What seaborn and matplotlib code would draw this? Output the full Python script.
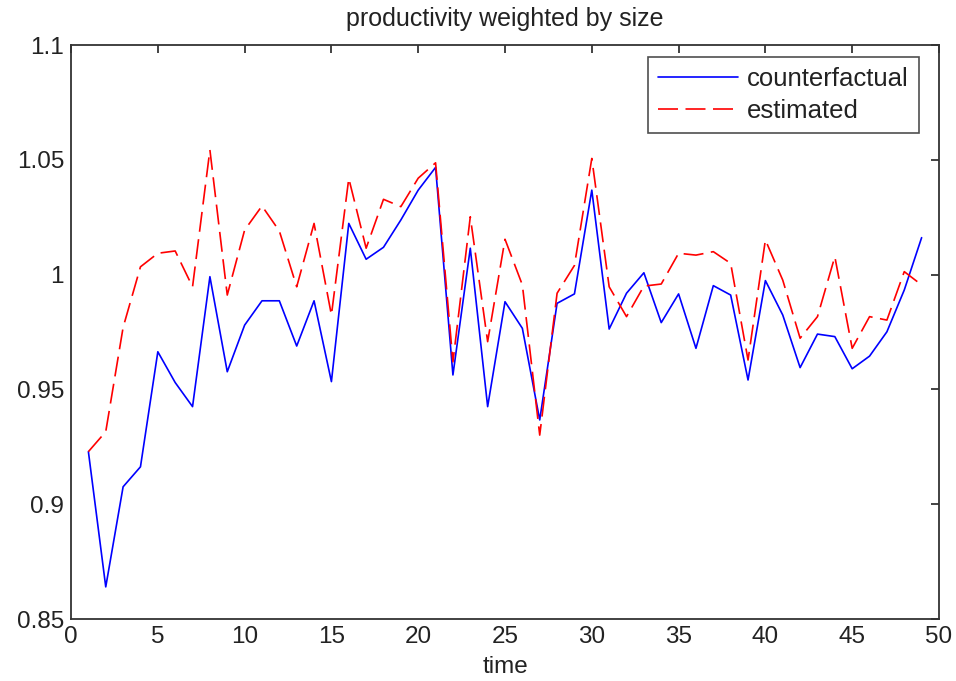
import seaborn as sns
import matplotlib.pyplot as plt
import pandas as pd
import numpy as np
from matplotlib.ticker import FuncFormatter

# values, t = 1..49
time = list(range(1, 50))
counterfactual = [
    0.9229, 0.864, 0.9076, 0.9163, 0.9664, 0.953, 0.9425, 0.9991, 0.9577, 0.978,
    0.9886, 0.9886, 0.9689, 0.9886, 0.9534, 1.0223, 1.0067, 1.0119, 1.0238, 1.0368,
    1.0467, 0.9563, 1.0115, 0.9425, 0.9882, 0.9766, 0.9367, 0.9875, 0.9916, 1.0368,
    0.9763, 0.9919, 1.0008, 0.9791, 0.9916, 0.9679, 0.9952, 0.9911, 0.9541, 0.9974,
    0.9824, 0.9595, 0.9741, 0.9730, 0.9590, 0.9645, 0.9751, 0.9933, 1.0161,
]
estimated = [
    0.9229, 0.9316, 0.977, 1.0034, 1.0093, 1.0103, 0.9947, 1.0543, 0.9911, 1.0194,
    1.0299, 1.019, 0.9947, 1.0223, 0.9824, 1.0419, 1.0115, 1.0328, 1.0296, 1.042,
    1.0487, 0.962, 1.0252, 0.9708, 1.0154, 0.9955, 0.9301, 0.9919, 1.004, 1.0506,
    0.9947, 0.9817, 0.995, 0.9959, 1.0093, 1.0085, 1.01, 1.0049, 0.9628, 1.0151,
    0.9976, 0.9723, 0.9817, 1.0078, 0.9679, 0.9817, 0.9802, 1.0013, 0.9955,
]
x_ticks = list(range(0, 51, 5))
y_ticks = [0.85, 0.9, 0.95, 1.0, 1.05, 1.1]

df = pd.DataFrame({"time": time, "counterfactual": counterfactual, "estimated": estimated})

sns.set_style("white")
plt.rcParams["font.family"] = ["Liberation Sans", "DejaVu Sans"]

fig = plt.figure(figsize=(9.56, 6.81), dpi=100)
ax = fig.add_axes([0.0743, 0.0910, 0.9079, 0.8429])

sns.lineplot(data=df, x="time", y="counterfactual", ax=ax, color="#0000ff",
             lw=1.2, label="counterfactual")
sns.lineplot(data=df, x="time", y="estimated", ax=ax, color="#ff0000",
             lw=1.2, linestyle=(0, (12, 4.5)), label="estimated")

ax.set_xlim(0, 50)
ax.set_ylim(0.85, 1.1)
ax.set_xticks(x_ticks)
ax.set_yticks(y_ticks)
ax.yaxis.set_major_formatter(FuncFormatter(lambda v, p: "%g" % v))
ax.tick_params(direction="in", length=6, width=1.2, top=True, right=True,
               labelsize=17.5, colors="#222222", pad=5)
for s in ax.spines.values():
    s.set_color("#333333")
    s.set_linewidth(1.3)

ax.set_title("productivity weighted by size", fontsize=18, pad=14, color="#222222")
ax.set_xlabel("time", fontsize=17.5, labelpad=6, color="#222222")
ax.set_ylabel("")

leg = ax.legend(loc="upper right", bbox_to_anchor=(0.977, 0.979), borderaxespad=0,
                fontsize=18.5, handlelength=3.1, handletextpad=0.35, frameon=True,
                fancybox=False, borderpad=0.4, labelspacing=0.3)
leg.get_frame().set_edgecolor("#222222")
leg.get_frame().set_linewidth(1.2)
for t in leg.get_texts():
    t.set_color("#222222")

fig.savefig("out.png", dpi=100)
